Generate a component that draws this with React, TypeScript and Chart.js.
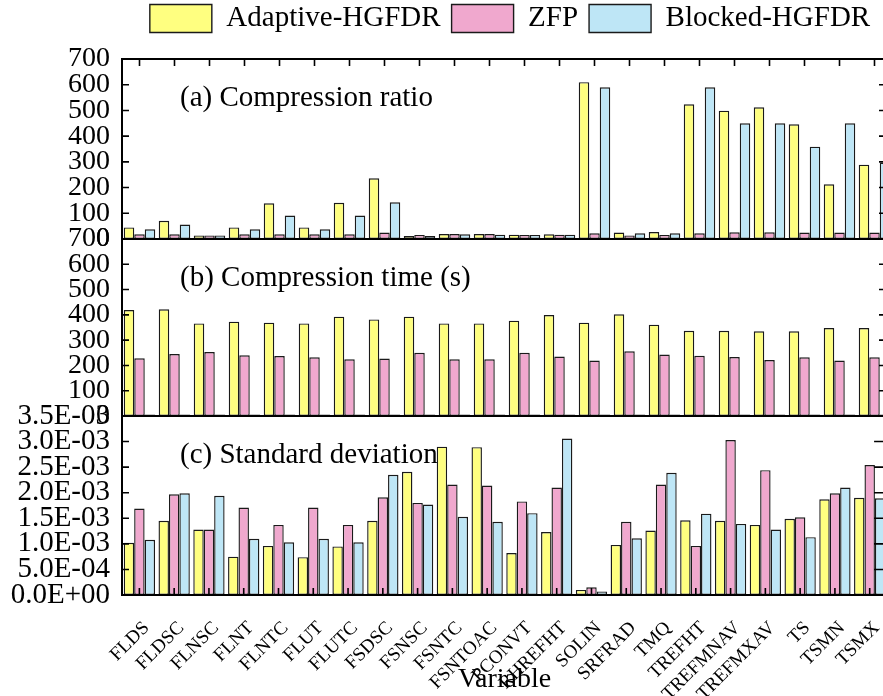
import React, { useEffect, useRef } from 'react';
import { Chart, registerables } from 'chart.js';

Chart.register(...registerables);

const FONT = '"Liberation Serif", "Times New Roman", serif';
Chart.defaults.font.family = FONT;
Chart.defaults.color = '#000';

const categories = ['FLDS', 'FLDSC', 'FLNSC', 'FLNT', 'FLNTC', 'FLUT', 'FLUTC', 'FSDSC', 'FSNSC', 'FSNTC', 'FSNTOAC', 'PCONVT', 'RHREFHT', 'SOLIN', 'SRFRAD', 'TMQ', 'TREFHT', 'TREFMNAV', 'TREFMXAV', 'TS', 'TSMN', 'TSMX'];
const seriesNames = ['Adaptive-HGFDR', 'ZFP', 'Blocked-HGFDR'];
const seriesColors = ['#FFFF80', '#F0A8CE', '#BEE6F6'];
const borderColor = '#1a1a1a';

// (a) Compression ratio
const ratioAdaptive = [45, 71, 14, 45, 139, 45, 141, 236, 12, 19, 19, 17, 18, 610, 25, 27, 524, 499, 512, 446, 213, 289];
const ratioZFP = [18, 18, 14, 18, 18, 18, 18, 25, 16, 19, 19, 16, 17, 22, 14, 16, 22, 26, 26, 25, 25, 25];
const ratioBlocked = [38, 56, 14, 38, 91, 38, 91, 143, 12, 18, 17, 16, 17, 590, 22, 22, 590, 450, 450, 359, 450, 297];

// (b) Compression time (s)
const timeAdaptive = [419, 422, 366, 373, 369, 366, 393, 382, 393, 366, 366, 377, 399, 369, 402, 361, 337, 337, 335, 335, 348, 348];
const timeZFP = [228, 245, 253, 240, 237, 232, 224, 227, 250, 224, 224, 250, 235, 219, 256, 243, 238, 233, 221, 232, 219, 232];
const timeBlocked = [6, 6, 6, 6, 6, 6, 6, 6, 6, 6, 6, 6, 6, 6, 6, 6, 6, 6, 6, 6, 6, 6];

// (c) Standard deviation
const sdAdaptive = [0.00102, 0.00145, 0.00128, 0.00075, 0.00096, 0.00074, 0.00095, 0.00145, 0.00241, 0.00290, 0.00289, 0.00082, 0.00123, 0.00010, 0.00098, 0.00126, 0.00146, 0.00145, 0.00137, 0.00149, 0.00187, 0.00190];
const sdZFP = [0.00169, 0.00197, 0.00128, 0.00171, 0.00137, 0.00171, 0.00137, 0.00191, 0.00180, 0.00216, 0.00214, 0.00183, 0.00210, 0.00015, 0.00143, 0.00216, 0.00096, 0.00303, 0.00244, 0.00152, 0.00199, 0.00254];
const sdBlocked = [0.00108, 0.00199, 0.00194, 0.00110, 0.00103, 0.00110, 0.00103, 0.00235, 0.00177, 0.00153, 0.00143, 0.00160, 0.00306, 0.00007, 0.00111, 0.00239, 0.00159, 0.00139, 0.00128, 0.00113, 0.00210, 0.00189];

const panelTitles = ['(a) Compression ratio', '(b) Compression time (s)', '(c) Standard deviation'];
const ratioMax = 700;
const ratioStep = 100;
const timeMax = 700;
const timeStep = 100;
const sdMax = 0.0035;
const sdStep = 0.0005;
const xTitle = 'Variable';

const CANVAS_W = 900;
const CANVAS_H = 696;

const fmtSci = (v: number) => {
  if (Math.abs(v) < 1e-12) return '0.0E+00';
  let e = Math.floor(Math.log10(Math.abs(v)) + 1e-9);
  let m = v / Math.pow(10, e);
  if (Math.round(m * 10) / 10 >= 10) {
    m /= 10;
    e += 1;
  }
  return m.toFixed(1) + 'E' + (e < 0 ? '-' : '+') + String(Math.abs(e)).padStart(2, '0');
};

type PanelCfg = {
  data: number[][];
  max: number;
  step: number;
  fmt: (v: number) => string;
  title: string;
  top: number;
  bottom: number;
  showX: boolean;
  topTicks: boolean;
  bottomTicks: boolean;
  yFont: number;
};

function makePanel(canvas: HTMLCanvasElement, cfg: PanelCfg) {
  const plugin = {
    id: 'panelDeco',
    beforeDatasetsDraw(chart: any) {
      const { ctx, chartArea } = chart;
      ctx.save();
      ctx.font = `29px ${FONT}`;
      ctx.fillStyle = '#000';
      ctx.textBaseline = 'middle';
      ctx.textAlign = 'left';
      ctx.fillText(cfg.title, chartArea.left + 58, chartArea.top + 39);
      ctx.restore();
    },
    afterDatasetsDraw(chart: any) {
      const { ctx, chartArea } = chart;
      const { left, top, right, bottom } = chartArea;
      const x = chart.scales.x;
      const y = chart.scales.y;
      ctx.save();
      ctx.strokeStyle = '#000';
      ctx.lineWidth = 2;
      ctx.strokeRect(left, top, right - left, bottom - top);
      ctx.lineWidth = 1.6;
      ctx.beginPath();
      y.ticks.forEach((t: any) => {
        const py = y.getPixelForValue(t.value);
        ctx.moveTo(left, py);
        ctx.lineTo(left + 7, py);
        ctx.moveTo(right, py);
        ctx.lineTo(right - 13, py);
      });
      categories.forEach((_, i) => {
        const px = x.getPixelForValue(i);
        if (cfg.topTicks) {
          ctx.moveTo(px, top);
          ctx.lineTo(px, top + 7);
        }
        if (cfg.bottomTicks) {
          ctx.moveTo(px, bottom);
          ctx.lineTo(px, bottom - 7);
        }
      });
      ctx.stroke();
      ctx.restore();
    },
  };

  return new Chart(canvas, {
    type: 'bar',
    data: {
      labels: categories,
      datasets: cfg.data.map((d, i) => ({
        label: seriesNames[i],
        data: d,
        backgroundColor: seriesColors[i],
        borderColor: borderColor,
        borderWidth: 1.4,
        borderSkipped: false,
        categoryPercentage: 0.9,
        barPercentage: 1.0,
      })),
    },
    options: {
      responsive: false,
      animation: false,
      events: [],
      layout: { padding: { left: 0, right: CANVAS_W - 892, top: cfg.top, bottom: 0 } },
      plugins: { legend: { display: false }, tooltip: { enabled: false } },
      scales: {
        x: {
          type: 'category',
          offset: true,
          grid: { display: false },
          border: { display: false },
          ticks: {
            display: cfg.showX,
            autoSkip: false,
            maxRotation: 45,
            minRotation: 45,
            padding: 14,
            labelOffset: 7,
            color: '#000',
            font: { family: FONT, size: 19 },
          },
          title: {
            display: cfg.showX,
            text: xTitle,
            color: '#000',
            font: { family: FONT, size: 28 },
            padding: { top: 0, bottom: 0 },
          },
          afterFit: (s: any) => {
            s.height = CANVAS_H - cfg.bottom;
          },
        },
        y: {
          type: 'linear',
          min: 0,
          max: cfg.max,
          grid: { display: false },
          border: { display: false },
          ticks: {
            stepSize: cfg.step,
            autoSkip: false,
            padding: 4,
            color: '#000',
            font: { family: FONT, size: cfg.yFont },
            callback: (v: any) => cfg.fmt(Number(v)),
          },
          afterFit: (s: any) => {
            s.width = 122;
          },
        },
      },
    },
    plugins: [plugin],
  } as any);
}

export default function App() {
  const legendRef = useRef<HTMLCanvasElement>(null);
  const aRef = useRef<HTMLCanvasElement>(null);
  const bRef = useRef<HTMLCanvasElement>(null);
  const cRef = useRef<HTMLCanvasElement>(null);

  useEffect(() => {
    const charts: Chart[] = [];
    if (legendRef.current) {
      charts.push(
        new Chart(legendRef.current, {
          type: 'bar',
          data: {
            labels: [],
            datasets: seriesNames.map((n, i) => ({
              label: n,
              data: [],
              backgroundColor: seriesColors[i],
              borderColor: borderColor,
              borderWidth: 1.4,
            })),
          },
          options: {
            responsive: false,
            animation: false,
            events: [],
            layout: { padding: { left: 120, right: 0, top: 0, bottom: 0 } },
            scales: { x: { display: false }, y: { display: false } },
            plugins: {
              tooltip: { enabled: false },
              legend: {
                display: true,
                position: 'top',
                labels: {
                  boxWidth: 62,
                  boxHeight: 28,
                  padding: 11,
                  color: '#000',
                  font: { family: FONT, size: 29 },
                },
              },
            },
          },
        } as any)
      );
    }
    const fmtInt = (v: number) => String(Math.round(v));
    if (aRef.current)
      charts.push(
        makePanel(aRef.current, {
          data: [ratioAdaptive, ratioZFP, ratioBlocked],
          max: ratioMax,
          step: ratioStep,
          fmt: fmtInt,
          title: panelTitles[0],
          top: 59,
          bottom: 239,
          showX: false,
          topTicks: true,
          bottomTicks: false,
          yFont: 28,
        })
      );
    if (bRef.current)
      charts.push(
        makePanel(bRef.current, {
          data: [timeAdaptive, timeZFP, timeBlocked],
          max: timeMax,
          step: timeStep,
          fmt: fmtInt,
          title: panelTitles[1],
          top: 239,
          bottom: 416,
          showX: false,
          topTicks: false,
          bottomTicks: false,
          yFont: 28,
        })
      );
    if (cRef.current)
      charts.push(
        makePanel(cRef.current, {
          data: [sdAdaptive, sdZFP, sdBlocked],
          max: sdMax,
          step: sdStep,
          fmt: fmtSci,
          title: panelTitles[2],
          top: 416,
          bottom: 595,
          showX: true,
          topTicks: false,
          bottomTicks: true,
          yFont: 29,
        })
      );
    return () => charts.forEach((c) => c.destroy());
  }, []);

  const abs: React.CSSProperties = { position: 'absolute', left: 0, top: 0 };
  return (
    <div style={{ position: 'fixed', left: 0, top: 0, width: 883, height: 696, overflow: 'hidden', background: '#fff' }}>
      <canvas ref={legendRef} width={CANVAS_W} height={160} style={{ ...abs, top: -7 }} />
      <canvas ref={aRef} width={CANVAS_W} height={CANVAS_H} style={abs} />
      <canvas ref={bRef} width={CANVAS_W} height={CANVAS_H} style={abs} />
      <canvas ref={cRef} width={CANVAS_W} height={CANVAS_H} style={abs} />
    </div>
  );
}
